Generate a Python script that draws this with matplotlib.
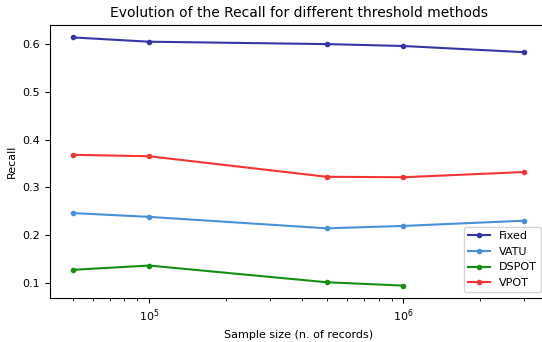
import matplotlib
matplotlib.use("Agg")
import matplotlib.pyplot as plt

sample_sizes = [5e4, 1e5, 5e5, 1e6, 3e6]

recall_fixed = [0.614, 0.605, 0.600, 0.596, 0.583]
recall_vatu = [0.246, 0.238, 0.214, 0.219, 0.230]
recall_dspot = [0.127, 0.136, 0.101, 0.094]
recall_vpot = [0.368, 0.365, 0.322, 0.321, 0.332]


def main():
    fig = plt.figure(figsize=(5.42, 3.42), dpi=100)
    # axes runs a bit past the right edge, as in the cropped original
    ax = fig.add_axes([50 / 542, 44 / 342, 497 / 542, 273 / 342])

    ax.plot(sample_sizes, recall_fixed, marker=".", color="#3535a5", label="Fixed")
    ax.plot(sample_sizes, recall_vatu, marker=".", color="#4a90d8", label="VATU")
    ax.plot(sample_sizes[:4], recall_dspot, marker=".", color="#159015", label="DSPOT")
    ax.plot(sample_sizes, recall_vpot, marker=".", color="#f53535", label="VPOT")

    ax.set_xscale("log")
    ax.set_xlabel("Sample size (n. of records)", fontsize=8)
    ax.set_ylabel("Recall", fontsize=8)
    ax.set_title("Evolution of the Recall for different threshold methods", fontsize=10)
    ax.tick_params(labelsize=8)
    ax.legend(loc="lower right", fontsize=8)

    fig.savefig("out.png", dpi=100)


if __name__ == "__main__":
    main()
